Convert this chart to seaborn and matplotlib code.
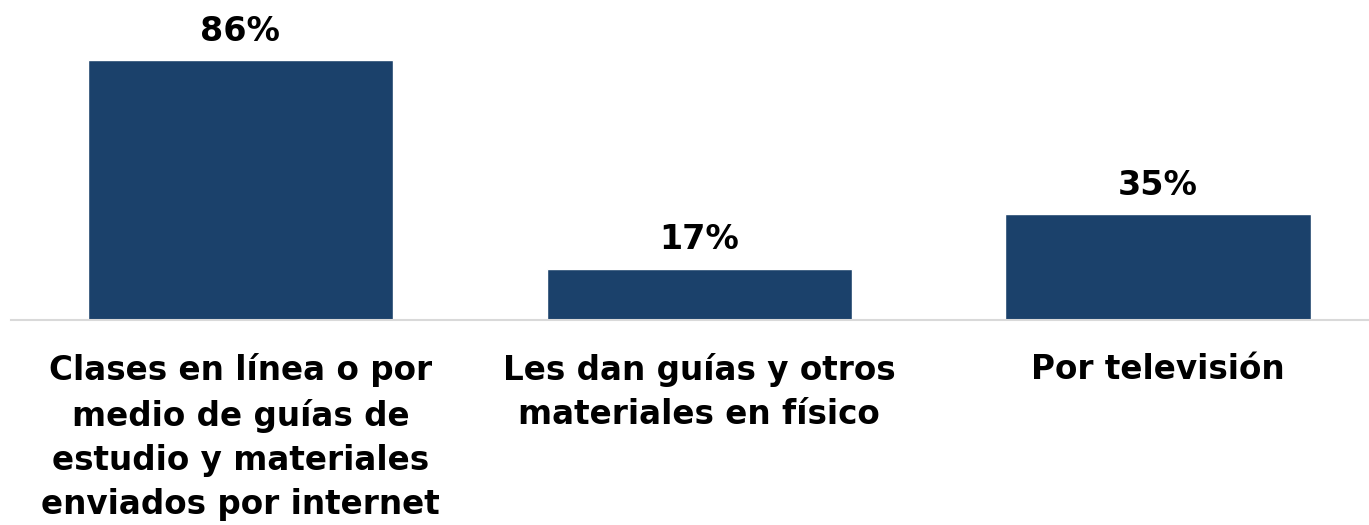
import seaborn as sns
import matplotlib.pyplot as plt
import pandas as pd

categorias = ['Clases en línea o por\nmedio de guías de\nestudio y materiales\nenviados por internet',
              'Les dan guías y otros\nmateriales en físico',
              'Por televisión']
valores = [86, 17, 35]

df = pd.DataFrame({'categoria': categorias, 'valor': valores})

sns.set_style('white')
plt.rcParams['font.family'] = ['DejaVu Sans']

fig = plt.figure(figsize=(13.69, 5.25), dpi=100)
ax = fig.add_axes([0.008, 0.3905, 0.992, 0.6095])

sns.barplot(data=df, x='categoria', y='valor', color='#1b416b',
            width=0.665, saturation=1, ax=ax)

for c in ax.containers:
    ax.bar_label(c, labels=[f'{v}%' for v in valores], padding=9,
                 fontsize=24, fontweight='bold', color='black')

ax.set_ylim(0, 106)
ax.set_xlim(-0.5, 2.46)
ax.set_yticks([])
ax.set_xlabel('')
ax.set_ylabel('')
ax.tick_params(axis='x', length=0, pad=24)
for lbl in ax.get_xticklabels():
    lbl.set_fontsize(23.5)
    lbl.set_fontweight('bold')
    lbl.set_color('black')
    lbl.set_linespacing(1.42)
    lbl.set_verticalalignment('top')
sns.despine(ax=ax, left=True)
ax.spines['bottom'].set_color('#d9d9d9')
ax.spines['bottom'].set_linewidth(1.5)

fig.savefig('out.png', dpi=100)
